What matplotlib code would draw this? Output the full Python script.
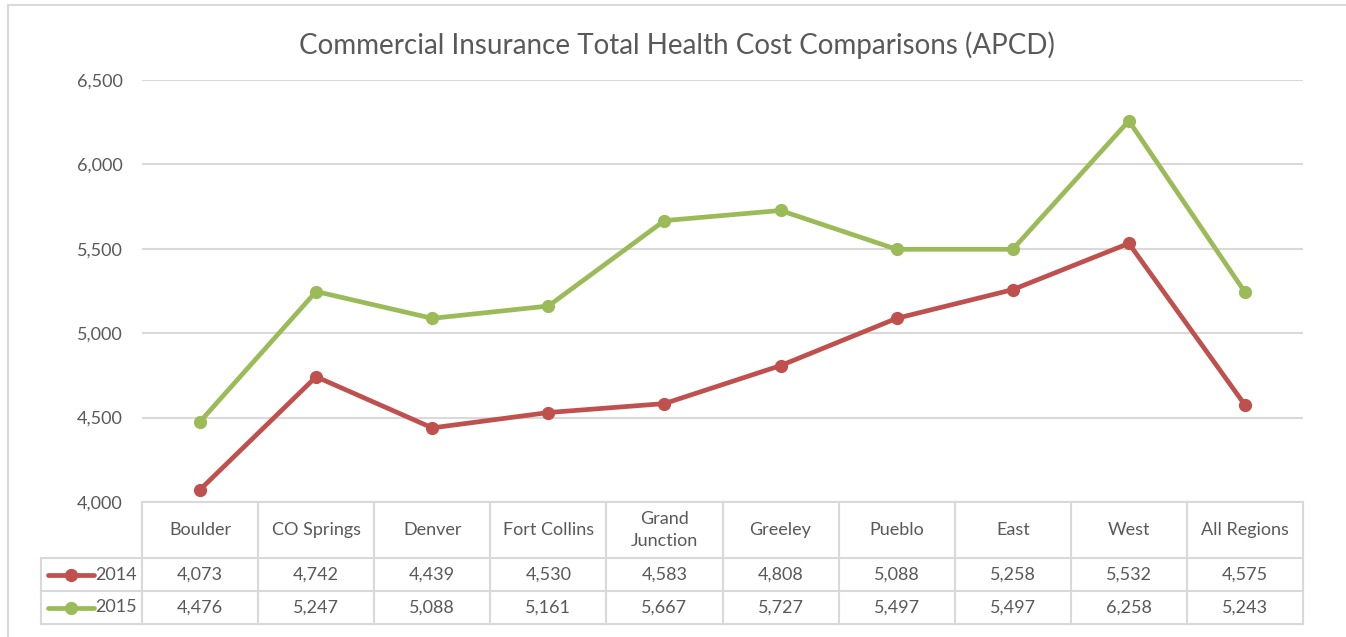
import numpy as np
import matplotlib
matplotlib.use("Agg")
import matplotlib.pyplot as plt
from matplotlib.lines import Line2D
import matplotlib.transforms as mtransforms

plt.rcParams['font.family'] = ['Lato', 'DejaVu Sans']

# data
regions = ['Boulder', 'CO Springs', 'Denver', 'Fort Collins', 'Grand\nJunction',
           'Greeley', 'Pueblo', 'East', 'West', 'All Regions']
cost_2014 = [4073, 4742, 4439, 4530, 4583, 4808, 5088, 5258, 5532, 4575]
cost_2015 = [4476, 5247, 5088, 5161, 5667, 5727, 5497, 5497, 6258, 5243]
series = [('2014', cost_2014, '#C0504D'), ('2015', cost_2015, '#9BBB59')]
yticks = [4000, 4500, 5000, 5500, 6000, 6500]

text_col = '#595959'
grid_col = '#D9D9D9'

W, H = 1346, 637
fig = plt.figure(figsize=(W / 100, H / 100), dpi=100)
fig.patch.set_facecolor('white')

# chart border (runs off the right/bottom edge like the screenshot)
fig.add_artist(plt.Rectangle((8 / W, -0.05), 1.1, 1 - 5 / H + 0.05,
                             transform=fig.transFigure, fill=False,
                             edgecolor=grid_col, lw=1.5))

# plot area
left, right, top, bottom = 142 / W, 1303 / W, 1 - 80 / H, 1 - 502 / H
ax = fig.add_axes([left, bottom, right - left, top - bottom])
x = np.arange(len(regions))
ax.set_xlim(-0.5, len(regions) - 0.5)
ax.set_ylim(4000, 6500)
ax.set_yticks(yticks)
ax.set_yticklabels([f'{v:,}' for v in yticks])
ax.yaxis.grid(True, color=grid_col, lw=1.5)
ax.set_axisbelow(True)
for s in ax.spines.values():
    s.set_visible(False)
ax.tick_params(axis='y', length=0, pad=14, labelsize=13, labelcolor=text_col)
ax.tick_params(axis='x', bottom=False, labelbottom=False)

for name, vals, col in series:
    ax.plot(x, vals, color=col, lw=3.4, marker='o', ms=8.5,
            solid_capstyle='round', clip_on=False, zorder=3)

fig.text(0.503, 1 - 45 / H, 'Commercial Insurance Total Health Cost Comparisons (APCD)',
         ha='center', va='center', fontsize=20, color=text_col)

# data table under the axis, x in data units, y in axes units
trans = mtransforms.blended_transform_factory(ax.transData, ax.transAxes)
ph = top - bottom
row_h = 33 / H / ph
head_h = 56 / H / ph
y_head_bot = -head_h
y_rows = [y_head_bot, y_head_bot - row_h, y_head_bot - 2 * row_h]
label_left = -0.5 - (142 - 41) / ((1303 - 142) / len(regions))
lkw = dict(color=grid_col, lw=1.5, transform=trans, clip_on=False)

# horizontal lines
ax.add_line(Line2D([-0.5, 9.5], [0, 0], **lkw))
for yy in y_rows:
    ax.add_line(Line2D([label_left, 9.5], [yy, yy], **lkw))
# vertical lines
for xv in np.arange(-0.5, len(regions) + 0.5):
    ax.add_line(Line2D([xv, xv], [0, y_rows[-1]], **lkw))
ax.add_line(Line2D([label_left, label_left], [y_rows[0], y_rows[-1]], **lkw))

fs = 13
for i, r in enumerate(regions):
    ax.text(i, -head_h / 2, r, transform=trans, ha='center', va='center',
            fontsize=fs, color=text_col, linespacing=1.5)
for k, (name, vals, col) in enumerate(series):
    yc = y_rows[k] - row_h / 2
    for i, v in enumerate(vals):
        ax.text(i, yc, f'{v:,}', transform=trans, ha='center', va='center',
                fontsize=fs, color=text_col)
    ax.add_line(Line2D([label_left + 0.06, label_left + 0.46], [yc, yc], color=col,
                       lw=3.4, transform=trans, clip_on=False,
                       solid_capstyle='round'))
    ax.add_line(Line2D([label_left + 0.26], [yc], color=col, marker='o', ms=8.5,
                       transform=trans, clip_on=False))
    ax.text(label_left + 0.47, yc, name, transform=trans, ha='left', va='center',
            fontsize=fs, color=text_col)

fig.savefig('out.png', dpi=100, facecolor='white')
